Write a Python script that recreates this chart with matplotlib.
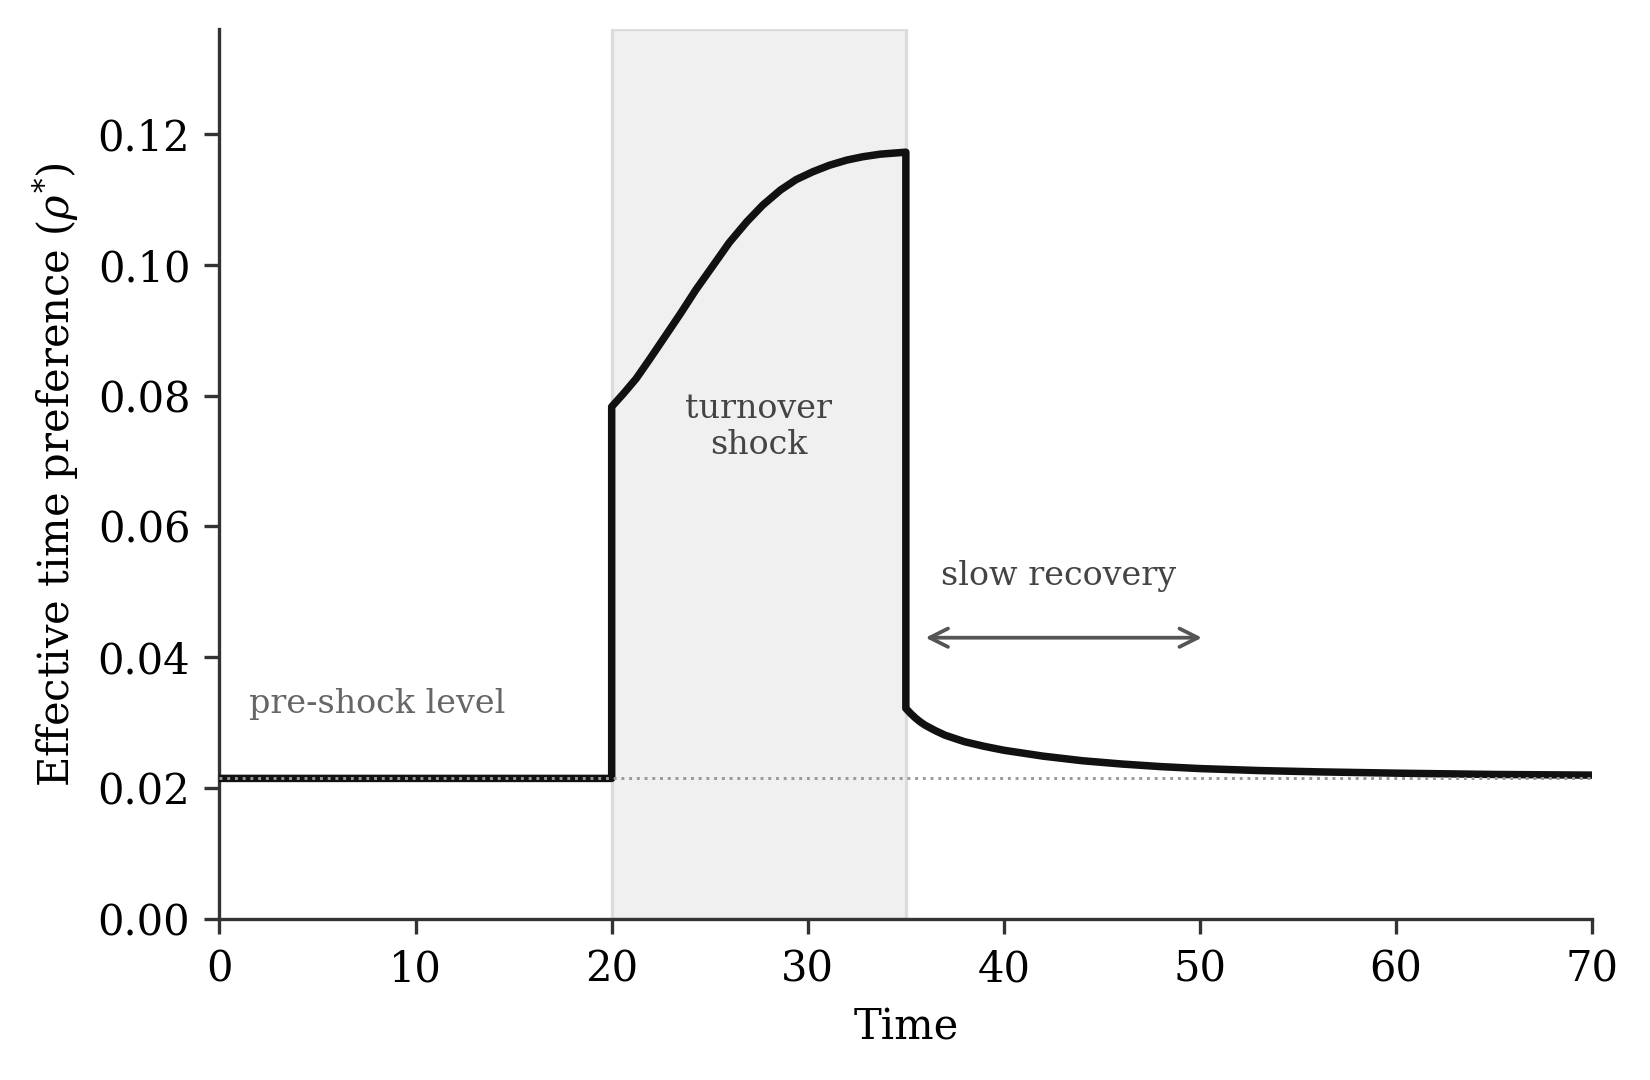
import matplotlib
matplotlib.use("Agg")
import matplotlib.pyplot as plt
import numpy as np

plt.rcParams['font.family'] = ['DejaVu Serif']
plt.rcParams['mathtext.fontset'] = 'dejavuserif'

# values
baseline = 0.0215
shock_start, shock_end = 20, 35

t_pre = [0, 20]
rho_pre = [0.0215, 0.0215]

t_shock = [20, 20, 20.6, 21.25, 21.9, 22.6, 23.5, 24.3, 25.2, 26.0, 26.9, 27.7,
           28.6, 29.4, 30.25, 31.1, 32.0, 32.8, 33.7, 35.0, 35.0]
rho_shock = [0.0215, 0.0783, 0.0803, 0.0826, 0.0854, 0.0885, 0.0925, 0.0962, 0.1000,
             0.1034, 0.1066, 0.1091, 0.1114, 0.1130, 0.1142, 0.1152, 0.1160, 0.1165,
             0.1169, 0.1172, 0.0322]

t_post = [35.0, 35.25, 35.5, 35.75, 36, 36.5, 37, 37.5, 38, 39, 40, 42, 44, 46, 48,
          50, 53, 56, 60, 65, 70]
rho_post = [0.0322, 0.0314, 0.0307, 0.0301, 0.0296, 0.0288, 0.0281, 0.0276, 0.0271,
            0.0264, 0.0258, 0.0249, 0.0242, 0.0237, 0.0233, 0.0230, 0.0227, 0.0225,
            0.0223, 0.0221, 0.0220]

t = t_pre + t_shock[1:] + t_post[1:]
rho = rho_pre + rho_shock[1:] + rho_post[1:]

fig = plt.figure(figsize=(5.5, 3.6), dpi=300)
ax = fig.add_axes([0.133, 0.149, 0.832, 0.824])

ax.axvspan(shock_start, shock_end, facecolor='#f0f0f0', edgecolor='#dcdcdc', lw=0.8, zorder=0)
ax.plot(t, rho, color='#111111', lw=1.8, zorder=3)
ax.axhline(baseline, color='#999999', lw=0.7, ls=':', zorder=4)

ax.text(1.5, 0.0328, 'pre-shock level', fontsize=8, color='#666666', va='center', ha='left')
ax.text(27.5, 0.0752, 'turnover\nshock', fontsize=8, color='#444444', va='center', ha='center',
        linespacing=1.15)
ax.text(42.8, 0.0525, 'slow recovery', fontsize=8, color='#444444', va='center', ha='center')
ax.annotate('', xy=(50.1, 0.043), xytext=(36.0, 0.043),
            arrowprops=dict(arrowstyle='<->', color='#555555', lw=0.9,
                            shrinkA=0, shrinkB=0, mutation_scale=11))

ax.set_xlim(0, 70)
ax.set_ylim(0, 0.136)
ax.set_xticks(np.arange(0, 71, 10))
ax.set_yticks([0, 0.02, 0.04, 0.06, 0.08, 0.10, 0.12])
ax.set_yticklabels(['0.00', '0.02', '0.04', '0.06', '0.08', '0.10', '0.12'])
ax.tick_params(labelsize=10, color='#333333', width=0.8)
ax.set_xlabel('Time', fontsize=10)
ax.set_ylabel(r'Effective time preference ($\rho^{*}$)', fontsize=10)

for s in ['top', 'right']:
    ax.spines[s].set_visible(False)
for s in ['left', 'bottom']:
    ax.spines[s].set_color('#333333')
    ax.spines[s].set_linewidth(0.8)

fig.savefig('out.png', dpi=300)
